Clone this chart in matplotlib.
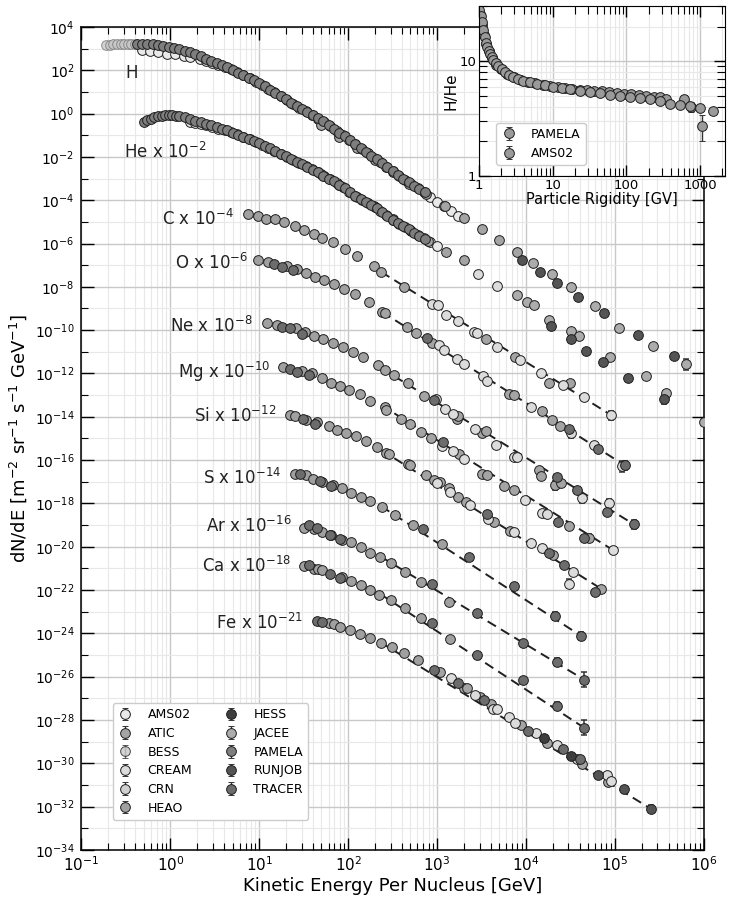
import numpy as np
import matplotlib.pyplot as plt
from matplotlib.ticker import FixedLocator, FixedFormatter, LogLocator, NullFormatter

plt.rcParams['font.family'] = ['DejaVu Sans']
plt.rcParams['mathtext.default'] = 'regular'

# experiments (legend order) and the one-letter codes used in the tables below
exp_names = ['AMS02', 'ATIC', 'BESS', 'CREAM', 'CRN', 'HEAO', 'HESS', 'JACEE', 'PAMELA', 'RUNJOB', 'TRACER']
exp_codes = ['a', 't', 'b', 'c', 'n', 'h', 's', 'j', 'p', 'r', 'x']
exp_colors = ['#e9e9e9', '#a4a4a4', '#c8c8c8', '#dcdcdc', '#d0d0d0', '#a0a0a0',
              '#3e3e3e', '#acacac', '#7e7e7e', '#545454', '#6c6c6c']

# ---- data: log10(E/GeV per nucleus), log10(flux as drawn, i.e. already scaled) ----
# dense low-energy spectra
h_bess_E = [-0.72, -0.68, -0.64, -0.60, -0.56, -0.52, -0.48, -0.44, -0.40]
h_bess_F = [3.17, 3.18, 3.19, 3.19, 3.20, 3.20, 3.21, 3.21, 3.21]

h_pamela_E = [-0.38, -0.32, -0.26, -0.20, -0.14, -0.08, -0.02, 0.04, 0.10, 0.16, 0.22, 0.28, 0.34, 0.40,
              0.46, 0.52, 0.58, 0.64, 0.70, 0.76, 0.82, 0.88, 0.94, 1.00, 1.06, 1.12, 1.18, 1.24, 1.30,
              1.36, 1.42, 1.48, 1.54, 1.60, 1.66, 1.72, 1.78, 1.84, 1.90, 1.96, 2.02, 2.08, 2.14, 2.20,
              2.26, 2.32, 2.38, 2.44, 2.50, 2.56, 2.62, 2.68, 2.74, 2.80, 2.86]
h_pamela_F = [3.23, 3.22, 3.21, 3.19, 3.16, 3.13, 3.09, 3.03, 2.96, 2.89, 2.82, 2.74, 2.64, 2.54,
              2.43, 2.33, 2.23, 2.13, 2.01, 1.89, 1.77, 1.65, 1.53, 1.41, 1.26, 1.11, 0.96, 0.81, 0.66,
              0.51, 0.36, 0.22, 0.07, -0.07, -0.22, -0.36, -0.52, -0.70, -0.88, -1.05, -1.23, -1.41, -1.59, -1.77,
              -1.94, -2.12, -2.30, -2.48, -2.66, -2.83, -3.00, -3.17, -3.33, -3.49, -3.64]

h_ams_E = [-0.32, -0.23, -0.14, -0.04, 0.05, 0.15, 0.22, 0.33, 0.40, 0.47, 0.54, 0.61, 0.68, 0.75,
           0.82, 0.89, 0.96, 1.03, 1.10, 1.17, 1.24, 1.31, 1.38, 1.45, 1.52, 1.59, 1.66, 1.73, 1.80,
           1.87, 1.94, 2.01, 2.08, 2.15, 2.22, 2.29, 2.36, 2.43, 2.50, 2.57, 2.64, 2.71, 2.78, 2.85,
           2.92, 3.00, 3.08, 3.16, 3.24]
h_ams_F = [2.92, 2.89, 2.82, 2.77, 2.73, 2.66, 2.59, 2.51, 2.43, 2.35, 2.26, 2.16, 2.04, 1.90,
           1.76, 1.62, 1.48, 1.33, 1.15, 0.98, 0.80, 0.63, 0.45, 0.28, 0.11, -0.06, -0.23, -0.40, -0.59,
           -0.80, -1.00, -1.21, -1.42, -1.63, -1.83, -2.04, -2.25, -2.46, -2.66, -2.86, -3.06, -3.25, -3.45, -3.64,
           -3.84, -4.06, -4.28, -4.50, -4.72]

he_pamela_E = [-0.30, -0.26, -0.22, -0.18, -0.14, -0.10, -0.06, -0.02, 0.02, 0.06, 0.10, 0.16, 0.22, 0.28,
               0.34, 0.40, 0.46, 0.52, 0.58, 0.64, 0.70, 0.76, 0.82, 0.88, 0.94, 1.00, 1.06, 1.12, 1.18,
               1.24, 1.30, 1.36, 1.42, 1.48, 1.54, 1.60, 1.66, 1.72, 1.78, 1.84, 1.90, 1.96, 2.02, 2.08,
               2.14, 2.20, 2.26, 2.32, 2.38, 2.44, 2.50, 2.56, 2.62, 2.68, 2.74, 2.80, 2.86]
he_pamela_F = [-0.39, -0.30, -0.23, -0.17, -0.13, -0.10, -0.08, -0.07, -0.08, -0.10, -0.13, -0.18, -0.26, -0.33,
               -0.41, -0.48, -0.55, -0.63, -0.70, -0.78, -0.88, -0.98, -1.08, -1.17, -1.27, -1.37, -1.49, -1.61, -1.74,
               -1.86, -1.98, -2.11, -2.23, -2.35, -2.48, -2.60, -2.72, -2.86, -3.00, -3.11, -3.28, -3.45, -3.63, -3.80,
               -3.95, -4.08, -4.22, -4.37, -4.55, -4.73, -4.91, -5.06, -5.20, -5.35, -5.50, -5.64, -5.79]

he_ams_E = [0.22, 0.28, 0.34, 0.40, 0.47, 0.54, 0.61, 0.68, 0.75, 0.82, 0.89, 0.96, 1.03, 1.10,
            1.17, 1.24, 1.31, 1.38, 1.45, 1.52, 1.59, 1.66, 1.73, 1.80, 1.87, 1.94, 2.01, 2.08,
            2.15, 2.22, 2.29, 2.36, 2.43, 2.50, 2.57, 2.64, 2.71, 2.78, 2.85, 2.92, 3.00]
he_ams_F = [-0.39, -0.43, -0.49, -0.55, -0.62, -0.70, -0.77, -0.85, -0.96, -1.08, -1.19, -1.31, -1.43, -1.57,
            -1.72, -1.86, -2.00, -2.15, -2.29, -2.44, -2.58, -2.72, -2.88, -3.04, -3.20, -3.39, -3.60, -3.80,
            -3.97, -4.13, -4.29, -4.49, -4.70, -4.91, -5.08, -5.25, -5.42, -5.59, -5.76, -5.93, -6.12]

# sparse points: (logE, logF, experiment code, error in dex)
h_pts = [(1.69, -0.51, 't', 0), (1.90, -1.08, 't', 0), (2.10, -1.61, 't', 0), (2.30, -2.15, 't', 0),
         (2.50, -2.69, 't', 0), (2.68, -3.23, 't', 0), (2.88, -3.72, 't', 0), (3.09, -4.26, 't', 0),
         (3.30, -4.80, 't', 0), (3.50, -5.31, 't', 0), (3.70, -5.85, 't', 0), (3.90, -6.39, 't', 0),
         (3.95, -6.74, 'r', 0), (4.08, -6.90, 'j', 0), (4.16, -7.31, 'r', 0), (4.29, -7.42, 'j', 0),
         (4.35, -7.82, 'r', 0), (4.50, -8.03, 'j', 0), (4.58, -8.49, 'r', 0), (4.78, -8.90, 'j', 0),
         (4.88, -9.23, 'r', 0), (5.05, -9.88, 'j', 0), (5.26, -10.23, 'r', 0), (5.43, -10.74, 'j', 0),
         (5.66, -11.20, 'r', 0.15), (5.80, -11.57, 'j', 0.25)]

he_pts = [(1.69, -2.77, 't', 0), (1.90, -3.31, 't', 0), (2.10, -3.85, 't', 0), (2.30, -4.31, 't', 0),
          (2.50, -4.88, 't', 0), (2.70, -5.39, 't', 0), (2.90, -5.88, 't', 0), (3.10, -6.39, 't', 0),
          (3.30, -6.77, 't', 0), (3.46, -7.39, 'c', 0), (3.67, -7.96, 'c', 0), (3.90, -8.39, 'j', 0),
          (4.01, -8.72, 'j', 0), (4.09, -8.85, 'j', 0), (4.26, -9.51, 'j', 0), (4.28, -9.82, 'r', 0),
          (4.50, -10.04, 'j', 0), (4.50, -10.43, 'r', 0), (4.59, -10.25, 'j', 0), (4.67, -10.96, 'r', 0),
          (4.87, -11.49, 'r', 0), (4.94, -11.26, 'j', 0), (5.15, -12.21, 'r', 0), (5.35, -12.13, 'j', 0),
          (5.55, -13.20, 'r', 0.2), (5.57, -12.88, 'j', 0), (6.00, -14.24, 'j', 0)]

c_pts = [(0.87, -4.62, 'h', 0), (0.98, -4.73, 'h', 0), (1.08, -4.85, 'h', 0), (1.18, -4.89, 'h', 0),
         (1.28, -5.00, 'h', 0), (1.40, -5.20, 'h', 0), (1.50, -5.39, 't', 0), (1.61, -5.54, 't', 0),
         (1.71, -5.74, 't', 0), (1.83, -5.95, 't', 0), (1.96, -6.23, 't', 0), (2.10, -6.59, 't', 0),
         (2.29, -7.05, 't', 0), (2.37, -7.31, 't', 0), (2.63, -8.00, 't', 0), (2.94, -8.80, 'c', 0),
         (3.01, -8.85, 'c', 0), (3.10, -9.31, 'c', 0.15), (3.24, -9.57, 'c', 0), (3.41, -10.08, 'c', 0),
         (3.45, -10.11, 'c', 0), (3.55, -10.39, 't', 0), (3.67, -10.77, 'c', 0), (3.87, -11.24, 't', 0),
         (3.93, -11.39, 'c', 0), (4.17, -11.97, 'c', 0), (4.26, -12.44, 't', 0), (4.41, -12.51, 'c', 0),
         (4.49, -12.44, 't', 0), (4.65, -13.08, 'c', 0), (4.96, -13.93, 'c', 0.2)]

o_pts = [(0.99, -6.77, 'h', 0), (1.10, -6.85, 'h', 0), (1.16, -6.96, 'x', 0), (1.25, -7.08, 'x', 0),
         (1.31, -7.05, 'h', 0), (1.38, -7.23, 'x', 0), (1.42, -7.17, 'h', 0), (1.53, -7.36, 'h', 0),
         (1.63, -7.54, 'h', 0), (1.73, -7.69, 'h', 0), (1.84, -7.88, 'h', 0), (1.95, -8.10, 'h', 0),
         (2.08, -8.35, 'h', 0), (2.23, -8.70, 't', 0), (2.38, -9.16, 't', 0), (2.41, -9.20, 't', 0),
         (2.66, -9.85, 't', 0), (2.76, -10.11, 't', 0), (2.89, -10.36, 'x', 0), (2.94, -10.59, 't', 0),
         (3.02, -10.70, 'c', 0), (3.08, -10.93, 'c', 0), (3.22, -11.31, 'c', 0), (3.30, -11.54, 'c', 0),
         (3.52, -12.13, 'c', 0), (3.56, -12.34, 'c', 0), (3.81, -12.93, 't', 0), (3.86, -13.00, 't', 0),
         (4.05, -13.54, 'c', 0), (4.18, -13.74, 't', 0), (4.29, -14.13, 't', 0), (4.38, -14.44, 't', 0),
         (4.48, -14.57, 'x', 0), (4.51, -14.77, 'c', 0.2), (4.76, -15.28, 'c', 0), (4.81, -15.47, 'x', 0),
         (5.08, -16.28, 'c', 0.25), (5.11, -16.24, 'x', 0.2)]

ne_pts = [(1.09, -9.69, 'h', 0), (1.20, -9.74, 'h', 0), (1.25, -9.85, 'x', 0), (1.35, -9.92, 'x', 0),
          (1.41, -9.92, 'h', 0), (1.48, -10.16, 'x', 0), (1.51, -10.08, 'h', 0), (1.62, -10.27, 'h', 0),
          (1.72, -10.43, 'h', 0), (1.83, -10.59, 'h', 0), (1.94, -10.77, 'h', 0), (2.05, -11.03, 'h', 0),
          (2.17, -11.26, 'h', 0), (2.33, -11.62, 't', 0), (2.41, -11.85, 't', 0), (2.52, -12.08, 't', 0),
          (2.67, -12.46, 't', 0), (2.85, -13.04, 't', 0), (2.97, -13.23, 'x', 0), (2.99, -13.20, 'c', 0),
          (3.09, -13.66, 'c', 0), (3.18, -13.85, 'c', 0), (3.22, -14.11, 't', 0), (3.24, -13.96, 't', 0),
          (3.43, -14.57, 'c', 0), (3.50, -14.74, 't', 0), (3.55, -14.65, 't', 0), (3.66, -15.28, 'c', 0),
          (3.86, -15.85, 'c', 0), (3.90, -15.85, 'c', 0), (4.15, -16.47, 't', 0), (4.17, -16.74, 't', 0.15),
          (4.32, -17.16, 't', 0.2), (4.35, -16.80, 'x', 0), (4.39, -17.08, 't', 0), (4.57, -17.39, 'x', 0),
          (4.63, -17.77, 'c', 0.2), (4.91, -18.39, 'x', 0), (4.93, -18.00, 'c', 0.2), (5.21, -18.96, 'x', 0.2)]

mg_pts = [(1.27, -11.70, 'h', 0), (1.34, -11.80, 'x', 0), (1.42, -11.93, 'x', 0), (1.48, -11.90, 'h', 0),
          (1.56, -12.08, 'x', 0), (1.59, -12.00, 'h', 0), (1.70, -12.23, 'h', 0), (1.81, -12.42, 'h', 0),
          (1.91, -12.57, 'h', 0), (2.01, -12.74, 'h', 0), (2.13, -12.96, 'h', 0), (2.25, -13.27, 'h', 0),
          (2.41, -13.57, 't', 0), (2.43, -13.70, 't', 0), (2.59, -14.08, 't', 0), (2.70, -14.31, 't', 0),
          (2.82, -14.70, 't', 0), (2.93, -15.00, 't', 0), (3.06, -15.36, 'c', 0), (3.07, -15.16, 'x', 0),
          (3.18, -15.59, 'c', 0), (3.25, -15.74, 't', 0), (3.30, -15.97, 'c', 0), (3.51, -16.65, 't', 0),
          (3.56, -16.70, 't', 0), (3.75, -17.21, 't', 0), (3.86, -17.39, 't', 0), (3.99, -17.82, 'c', 0),
          (4.18, -18.44, 'c', 0), (4.23, -18.47, 'c', 0), (4.36, -18.85, 'x', 0), (4.48, -19.05, 't', 0),
          (4.65, -19.59, 'x', 0), (4.71, -19.59, 't', 0.2), (4.98, -20.16, 'c', 0.15)]

si_pts = [(1.35, -13.93, 'h', 0), (1.40, -13.97, 'h', 0), (1.49, -14.08, 'x', 0), (1.53, -14.13, 'h', 0),
          (1.63, -14.31, 'x', 0), (1.65, -14.24, 'h', 0), (1.78, -14.44, 'h', 0), (1.87, -14.59, 'h', 0),
          (1.98, -14.74, 'h', 0), (2.09, -14.90, 'h', 0), (2.20, -15.11, 'h', 0), (2.32, -15.39, 'h', 0),
          (2.43, -15.67, 't', 0), (2.46, -15.70, 't', 0), (2.67, -16.16, 't', 0), (2.70, -16.24, 't', 0),
          (2.88, -16.70, 't', 0), (2.96, -16.93, 't', 0), (3.00, -17.08, 'c', 0), (3.03, -17.01, 't', 0),
          (3.13, -17.27, 't', 0), (3.15, -17.47, 'c', 0), (3.24, -17.70, 't', 0), (3.33, -17.93, 't', 0),
          (3.37, -18.08, 'c', 0), (3.56, -18.47, 'x', 0), (3.57, -18.70, 'c', 0), (3.64, -18.85, 't', 0),
          (3.82, -19.27, 't', 0), (3.86, -19.32, 'c', 0), (4.05, -19.85, 'c', 0), (4.18, -20.08, 'c', 0),
          (4.26, -20.31, 'x', 0), (4.30, -20.39, 't', 0), (4.43, -20.85, 'x', 0), (4.48, -21.70, 'c', 0.2),
          (4.53, -21.16, 'c', 0), (4.78, -22.09, 'x', 0), (4.84, -21.93, 't', 0)]

s_pts = [(1.40, -16.65, 'h', 0), (1.46, -16.62, 'x', 0), (1.53, -16.70, 'h', 0), (1.60, -16.85, 'h', 0),
         (1.68, -16.97, 'x', 0), (1.71, -17.01, 'h', 0), (1.81, -17.21, 'x', 0), (1.83, -17.16, 'h', 0),
         (1.93, -17.31, 'h', 0), (2.03, -17.50, 'h', 0), (2.14, -17.70, 'h', 0), (2.25, -17.90, 'h', 0),
         (2.38, -18.16, 'h', 0), (2.53, -18.55, 'h', 0), (2.73, -19.01, 'h', 0), (2.84, -19.16, 'x', 0),
         (3.05, -19.88, 'h', 0), (3.36, -20.47, 'x', 0), (3.86, -21.82, 'x', 0), (4.33, -23.20, 'x', 0.2),
         (4.62, -24.12, 'x', 0.2)]

ar_pts = [(1.50, -19.13, 'h', 0), (1.56, -19.01, 'x', 0), (1.61, -19.20, 'h', 0), (1.65, -19.13, 'x', 0),
          (1.71, -19.32, 'h', 0), (1.80, -19.44, 'x', 0), (1.81, -19.47, 'h', 0), (1.91, -19.62, 'x', 0),
          (1.93, -19.67, 'h', 0), (2.03, -19.80, 'h', 0), (2.14, -20.01, 'h', 0), (2.25, -20.27, 'h', 0),
          (2.36, -20.47, 'h', 0), (2.48, -20.77, 'h', 0), (2.64, -21.16, 'h', 0), (2.82, -21.62, 'h', 0),
          (2.94, -21.74, 'x', 0), (3.13, -22.55, 'h', 0), (3.45, -23.04, 'x', 0), (3.96, -24.44, 'x', 0),
          (4.35, -25.32, 'x', 0.2), (4.65, -26.13, 'x', 0.35)]

ca_pts = [(1.50, -20.89, 'h', 0), (1.56, -20.82, 'x', 0), (1.61, -21.01, 'h', 0), (1.66, -21.05, 'h', 0),
          (1.70, -21.08, 'h', 0), (1.80, -21.24, 'x', 0), (1.91, -21.44, 'x', 0), (1.93, -21.39, 'h', 0),
          (2.03, -21.59, 'h', 0), (2.14, -21.78, 'h', 0), (2.25, -22.01, 'h', 0), (2.35, -22.21, 'h', 0),
          (2.48, -22.47, 'h', 0), (2.64, -22.85, 'h', 0), (2.82, -23.31, 'h', 0), (2.94, -23.54, 'x', 0),
          (3.15, -24.24, 'h', 0), (3.45, -25.01, 'x', 0), (3.96, -26.16, 'x', 0), (4.35, -27.36, 'x', 0.2),
          (4.65, -28.35, 'x', 0.35)]

fe_pts = [(1.65, -23.44, 'x', 0), (1.71, -23.47, 'x', 0), (1.78, -23.52, 'h', 0), (1.84, -23.58, 'h', 0),
          (1.91, -23.70, 'h', 0), (2.02, -23.86, 'h', 0), (2.13, -24.04, 'h', 0), (2.25, -24.23, 'h', 0),
          (2.37, -24.43, 'h', 0), (2.49, -24.64, 'h', 0), (2.63, -24.89, 'h', 0), (2.79, -25.24, 'h', 0),
          (2.96, -25.67, 'x', 0), (3.03, -25.78, 't', 0), (3.16, -26.06, 'c', 0), (3.23, -26.31, 'x', 0),
          (3.30, -26.52, 't', 0), (3.34, -26.52, 't', 0), (3.43, -26.85, 'c', 0), (3.48, -26.96, 't', 0),
          (3.53, -27.09, 'x', 0), (3.60, -27.27, 't', 0), (3.63, -27.47, 'c', 0), (3.67, -27.47, 'c', 0),
          (3.81, -27.88, 'c', 0), (3.88, -28.13, 'c', 0), (3.94, -28.24, 't', 0), (4.02, -28.50, 'x', 0),
          (4.11, -28.59, 'c', 0), (4.20, -28.83, 's', 0), (4.23, -29.08, 't', 0), (4.35, -29.16, 'c', 0),
          (4.41, -29.35, 'x', 0), (4.51, -29.66, 's', 0), (4.57, -29.82, 'c', 0), (4.61, -29.78, 'x', 0.1),
          (4.63, -30.04, 't', 0), (4.81, -30.55, 'r', 0), (4.91, -30.55, 'c', 0.1), (4.92, -30.88, 't', 0),
          (4.95, -30.81, 'c', 0), (5.10, -31.20, 'r', 0), (5.40, -32.09, 'r', 0.15)]

# dashed power-law fits: (logE start, logF start, logE end, logF end)
fits = [(2.37, -7.31, 4.96, -13.93), (2.38, -9.16, 5.11, -16.24), (2.37, -11.75, 5.21, -18.96),
        (2.37, -13.46, 4.98, -20.16), (2.37, -15.53, 4.84, -21.93), (2.37, -18.13, 4.62, -24.12),
        (2.37, -20.47, 4.65, -26.13), (2.37, -22.21, 4.65, -28.35), (2.37, -24.43, 5.40, -32.09)]

species_labels = ['H', 'He x 10$^{-2}$', 'C x 10$^{-4}$', 'O x 10$^{-6}$', 'Ne x 10$^{-8}$',
                  'Mg x 10$^{-10}$', 'Si x 10$^{-12}$', 'S x 10$^{-14}$', 'Ar x 10$^{-16}$',
                  'Ca x 10$^{-18}$', 'Fe x 10$^{-21}$']

# inset: H/He ratio vs rigidity
ams_R = [1.00, 1.053, 1.087, 1.133, 1.181, 1.232, 1.284, 1.339, 1.396, 1.470, 1.549, 1.666, 1.811,
         2.010, 2.230, 2.555, 2.894, 3.384, 3.956, 4.874, 6.001, 7.788, 10.10, 13.11, 17.02, 23.26,
         31.79, 43.45, 59.38, 81.2, 111, 151.7, 207, 283.5, 387.5, 529.6, 724, 989, 1500]
ams_ratio = [28.1, 24.6, 22.0, 18.6, 16.1, 14.4, 13.3, 12.3, 11.5, 10.8, 10.2, 9.55, 9.05,
             8.47, 8.02, 7.61, 7.31, 6.97, 6.75, 6.52, 6.35, 6.14, 5.98, 5.82, 5.67, 5.52,
             5.37, 5.24, 5.10, 4.96, 4.86, 4.77, 4.64, 4.50, 4.26, 4.12, 4.03, 3.90, 3.70]
pamela_R = [1.03, 1.10, 1.16, 1.25, 1.35, 1.50, 1.70, 2.0, 2.4, 3.0, 3.7, 4.6, 5.8, 7.3, 9.2, 11.6, 14.6,
            18.4, 23.2, 29.2, 36.8, 46.4, 58.4, 73.6, 92.7, 117, 147, 186, 234, 290, 350, 607, 763, 1065]
pamela_ratio = [25.5, 20.5, 17.0, 14.2, 12.2, 10.6, 9.3, 8.5, 7.7, 7.25, 6.9, 6.6, 6.4, 6.2, 6.05, 5.95, 5.85,
                5.75, 5.65, 5.6, 5.5, 5.45, 5.35, 5.3, 5.2, 5.15, 5.05, 4.98, 4.90, 4.85, 4.67, 4.67, 4.01, 2.72]
pamela_err = [0, 0, 0, 0, 0, 0, 0, 0, 0, 0, 0, 0, 0, 0, 0, 0, 0,
              0, 0, 0, 0, 0, 0, 0, 0, 0, 0, 0, 0, 0, 0, 0.35, 0.4, 0.7]

# ---------------------------------------------------------------------------
fig = plt.figure(figsize=(7.34, 8.98), dpi=100)
ax = fig.add_axes([0.111, 0.0535, 0.848, 0.9165])

MS = 7
EDGE = '#1e1e1e'


def mark(E, F, col, alpha=1.0, ec=EDGE):
    ax.plot(10 ** np.asarray(E), 10 ** np.asarray(F), 'o', ms=MS, mfc=col, mec=ec, mew=0.7,
            alpha=alpha, zorder=3)


all_pts = [h_pts, he_pts, c_pts, o_pts, ne_pts, mg_pts, si_pts, s_pts, ar_pts, ca_pts, fe_pts]

for fit in fits:
    ax.plot([10 ** fit[0], 10 ** fit[2]], [10 ** fit[1], 10 ** fit[3]], color='#202020',
            lw=1.4, dashes=(5, 3), zorder=2.5)

for code, name, col in zip(exp_codes, exp_names, exp_colors):
    if name == 'AMS02':
        mark(h_ams_E, h_ams_F, col)
        mark(he_ams_E, he_ams_F, col)
    if name == 'BESS':
        mark(h_bess_E, h_bess_F, col, alpha=0.8, ec='#777777')
    if name == 'PAMELA':
        mark(h_pamela_E, h_pamela_F, col)
        mark(he_pamela_E, he_pamela_F, col)
    for pts in all_pts:
        sel = [p for p in pts if p[2] == code]
        if not sel:
            continue
        E = 10 ** np.array([p[0] for p in sel])
        F = 10 ** np.array([p[1] for p in sel])
        err = np.array([p[3] for p in sel])
        k = err > 0
        if k.any():
            ax.errorbar(E[k], F[k], yerr=[F[k] * (1 - 10 ** -err[k]), F[k] * (10 ** err[k] - 1)],
                        fmt='none', ecolor='#333333', elinewidth=1.1, capsize=2.5, capthick=1.1, zorder=2.8)
        ax.plot(E, F, 'o', ms=MS, mfc=col, mec=EDGE, mew=0.7, zorder=3)

# species labels (positions in data coordinates)
label_pos = [(-0.51, 1.96), (-0.52, -1.69), (-0.09, -4.77), (0.05, -6.80), (0.00, -9.73),
             (0.09, -11.80), (0.26, -13.88), (0.37, -16.74), (0.40, -18.93), (0.35, -20.81),
             (0.51, -23.42)]
for txt, (lx, ly) in zip(species_labels, label_pos):
    ax.text(10 ** lx, 10 ** ly, txt, fontsize=12, ha='left', va='center_baseline', color='#222222', zorder=5)

ax.set_xscale('log')
ax.set_yscale('log')
ax.set_xlim(0.1, 1e6)
ax.set_ylim(1e-34, 1e4)
ax.xaxis.set_major_locator(LogLocator(base=10, numticks=20))
ax.xaxis.set_minor_locator(LogLocator(base=10, subs=np.arange(2, 10), numticks=100))
ax.xaxis.set_minor_formatter(NullFormatter())
ax.yaxis.set_major_locator(FixedLocator(10.0 ** np.arange(-34, 5, 2)))
ax.yaxis.set_minor_locator(FixedLocator(10.0 ** np.arange(-33, 4, 2)))
ax.yaxis.set_minor_formatter(NullFormatter())
ax.tick_params(which='both', direction='in', top=True, right=True)
ax.tick_params(axis='x', labelsize=11, pad=4)
ax.tick_params(axis='y', labelsize=10, pad=5)
ax.tick_params(which='major', length=9, width=1)
ax.tick_params(which='minor', length=5, width=0.8)
ax.grid(which='major', color='#c8c8c8', lw=1)
ax.grid(which='minor', color='#e8e8e8', lw=0.8)
ax.set_axisbelow(True)
for sp in ax.spines.values():
    sp.set_linewidth(1.1)
ax.set_xlabel('Kinetic Energy Per Nucleus [GeV]', fontsize=13, labelpad=2)
ax.set_ylabel('dN/dE [m$^{-2}$ sr$^{-1}$ s$^{-1}$ GeV$^{-1}$]', fontsize=13, labelpad=4)

# legend with errorbar-style handles
handles = []
for name, col in zip(exp_names, exp_colors):
    a = 0.8 if name == 'BESS' else 1.0
    h = ax.errorbar([np.nan], [np.nan], yerr=[1], fmt='o', ms=MS, mfc=col, mec=EDGE, mew=0.7,
                    ecolor='#333333', elinewidth=1, capsize=2.5, alpha=a)
    handles.append(h)
ax.legend(handles, exp_names, ncol=2, loc='lower left', bbox_to_anchor=(0.05, 0.037),
          borderaxespad=0, fontsize=9, labelspacing=0.45, handlelength=1.2, handletextpad=1.2,
          columnspacing=2.5, framealpha=1, edgecolor='#cccccc')

# ---- inset ----
axin = fig.add_axes([0.653, 0.804, 0.335, 0.189])
axin.errorbar(pamela_R, pamela_ratio, yerr=pamela_err, fmt='o', ms=MS, mfc='#9a9a9a', mec=EDGE,
              mew=0.7, ecolor='#333333', elinewidth=1, capsize=2.5, label='PAMELA')
axin.errorbar(ams_R, ams_ratio, yerr=np.zeros(len(ams_R)), fmt='o', ms=MS, mfc='#9a9a9a', mec=EDGE,
              mew=0.7, ecolor='#333333', elinewidth=1, capsize=2.5, label='AMS02')
axin.set_xscale('log')
axin.set_yscale('log')
axin.set_xlim(1, 2200)
axin.set_ylim(1, 30)
axin.xaxis.set_major_locator(FixedLocator([1, 10, 100, 1000]))
axin.xaxis.set_major_formatter(FixedFormatter(['1', '10', '100', '1000']))
axin.xaxis.set_minor_locator(LogLocator(base=10, subs=np.arange(2, 10), numticks=100))
axin.xaxis.set_minor_formatter(NullFormatter())
axin.yaxis.set_major_locator(FixedLocator([1, 10]))
axin.yaxis.set_major_formatter(FixedFormatter(['1', '10']))
axin.yaxis.set_minor_locator(FixedLocator([2, 3, 4, 5, 6, 7, 8, 9, 20, 30]))
axin.yaxis.set_minor_formatter(NullFormatter())
axin.tick_params(which='both', direction='in', top=True, right=True, labelsize=9.5, pad=2)
axin.tick_params(which='major', length=8, width=1)
axin.tick_params(which='minor', length=6, width=0.8)
axin.grid(which='major', color='#c8c8c8', lw=1)
axin.grid(which='minor', color='#e8e8e8', lw=0.8)
axin.set_axisbelow(True)
axin.set_xlabel('Particle Rigidity [GV]', fontsize=10.5, labelpad=0)
axin.set_ylabel('H/He', fontsize=11, labelpad=1)
axin.legend(loc='lower left', bbox_to_anchor=(0.068, 0.065), borderaxespad=0, fontsize=9,
            handlelength=1.2, handletextpad=1.2, framealpha=1, edgecolor='#cccccc')

fig.savefig('out.png', dpi=100)
